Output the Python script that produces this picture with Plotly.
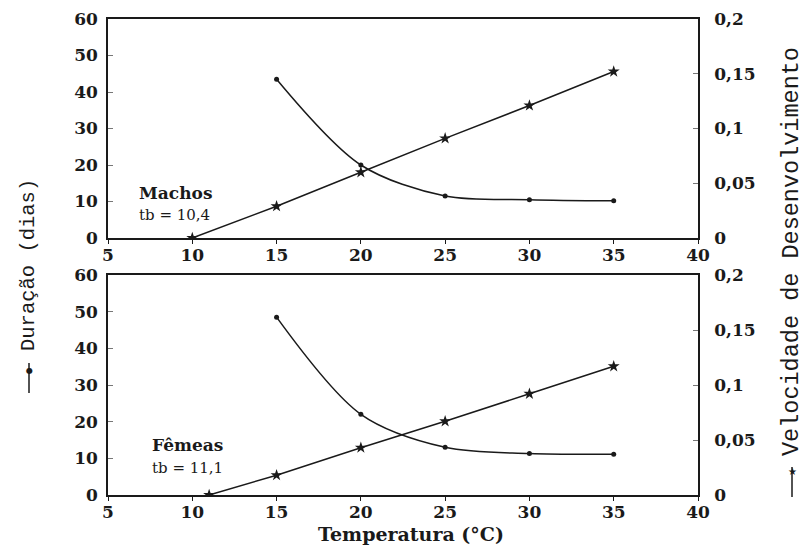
import plotly.graph_objects as go

temps_dur = [15, 20, 25, 30, 35]
dur_machos = [43.5, 20.0, 11.5, 10.5, 10.2]
dur_femeas = [48.5, 22.0, 13.0, 11.3, 11.1]

temps_vel_machos = [10, 15, 20, 25, 30, 35]
vel_machos = [0.0, 0.029, 0.060, 0.091, 0.121, 0.152]
temps_vel_femeas = [11, 15, 20, 25, 30, 35]
vel_femeas = [0.0, 0.018, 0.043, 0.067, 0.092, 0.117]

x_ticks = [5, 10, 15, 20, 25, 30, 35, 40]
left_ticks = [0, 10, 20, 30, 40, 50, 60]
right_ticks = [0, 0.05, 0.1, 0.15, 0.2]
right_labels = ["0", "0,05", "0,1", "0,15", "0,2"]

serif = "DejaVu Serif"
mono = "Liberation Mono"
black = "#1a1a1a"

# the page body adds an 8px offset; lay out in screenshot pixels and compensate
OFF = 8
W, H = 809 - OFF, 546 - OFF
ML = 108 - OFF
MT = 19 - OFF
MB = H - (495 - OFF)
MR = W - (698 - OFF)
PW, PH = W - ML - MR, H - MT - MB


def px(x):
    return (x - OFF - ML) / PW


def py(y):
    return (H - MB - (y - OFF)) / PH


fig = go.Figure()

dur_line = dict(color=black, width=1.5, shape="spline", smoothing=0.9)
vel_line = dict(color=black, width=1.5)

fig.add_trace(go.Scatter(x=temps_dur, y=dur_machos, mode="lines+markers", line=dur_line,
                         marker=dict(symbol="circle", size=5, color=black),
                         xaxis="x", yaxis="y", showlegend=False))
fig.add_trace(go.Scatter(x=temps_vel_machos, y=vel_machos, mode="lines+markers", line=vel_line,
                         marker=dict(symbol="star", size=9, color=black),
                         xaxis="x", yaxis="y2", showlegend=False))
fig.add_trace(go.Scatter(x=temps_dur, y=dur_femeas, mode="lines+markers", line=dur_line,
                         marker=dict(symbol="circle", size=5, color=black),
                         xaxis="x2", yaxis="y3", showlegend=False))
fig.add_trace(go.Scatter(x=temps_vel_femeas, y=vel_femeas, mode="lines+markers", line=vel_line,
                         marker=dict(symbol="star", size=9, color=black),
                         xaxis="x2", yaxis="y4", showlegend=False))

tickfont = dict(family=serif, size=17, color=black, weight="bold")

xcommon = dict(range=[5, 40], tickvals=x_ticks, showgrid=False, zeroline=False,
               showline=True, linecolor=black, linewidth=1.5, mirror=True,
               ticks="outside", ticklen=4, tickcolor=black, tickfont=tickfont,
               automargin=False, ticklabelstandoff=-3)
ylcommon = dict(range=[0, 60], tickvals=left_ticks, showgrid=False, zeroline=False,
                showline=True, linecolor=black, linewidth=1.5,
                ticks="inside", ticklen=5, tickcolor="#777", tickfont=tickfont,
                automargin=False, ticklabelstandoff=5)
yrcommon = dict(range=[0, 0.2], tickvals=right_ticks, ticktext=right_labels, showgrid=False,
                zeroline=False, showline=True, linecolor=black, linewidth=1.5, side="right",
                ticks="inside", ticklen=5, tickcolor="#777", tickfont=tickfont,
                automargin=False, ticklabelstandoff=11)

top_dom = [py(238), 1.0]
bot_dom = [0.0, py(275)]

fig.update_layout(
    template="none",
    width=W, height=H,
    margin=dict(l=ML, r=MR, t=MT, b=MB, pad=0),
    paper_bgcolor="white", plot_bgcolor="white",
    xaxis=dict(**xcommon, domain=[0, 1], anchor="y"),
    xaxis2=dict(**xcommon, domain=[0, 1], anchor="y3"),
    yaxis=dict(**ylcommon, domain=top_dom, anchor="x"),
    yaxis2=dict(**yrcommon, domain=top_dom, anchor="x", overlaying="y"),
    yaxis3=dict(**ylcommon, domain=bot_dom, anchor="x2"),
    yaxis4=dict(**yrcommon, domain=bot_dom, anchor="x2", overlaying="y3"),
)

# panel annotations
fig.add_annotation(x=6.7, y=12.2, xref="x", yref="y", text="Machos", showarrow=False,
                   xanchor="left", yanchor="middle",
                   font=dict(family=serif, size=17, color=black, weight="bold"))
fig.add_annotation(x=6.7, y=6.2, xref="x", yref="y", text="tb = 10,4", showarrow=False,
                   xanchor="left", yanchor="middle", font=dict(family=serif, size=15, color=black))
fig.add_annotation(x=7.5, y=13.6, xref="x2", yref="y3", text="Fêmeas", showarrow=False,
                   xanchor="left", yanchor="middle",
                   font=dict(family=serif, size=17, color=black, weight="bold"))
fig.add_annotation(x=7.5, y=7.4, xref="x2", yref="y3", text="tb = 11,1", showarrow=False,
                   xanchor="left", yanchor="middle", font=dict(family=serif, size=15, color=black))

# x-axis title
fig.add_annotation(x=px(411), y=py(534), xref="paper", yref="paper", text="Temperatura (°C)",
                   showarrow=False, xanchor="center", yanchor="middle",
                   font=dict(family=serif, size=19, color=black, weight="bold"))

# left axis title with its legend symbol
fig.add_annotation(x=px(28), y=py(265), xref="paper", yref="paper", text="Duração (dias)",
                   showarrow=False, textangle=-90, xanchor="center", yanchor="middle",
                   font=dict(family=mono, size=20.5, color=black))
fig.add_shape(type="line", xref="paper", yref="paper", x0=px(29), x1=px(29), y0=py(363), y1=py(393),
              line=dict(color=black, width=1.5))
fig.add_annotation(x=px(29), y=py(370), xref="paper", yref="paper", text="●", showarrow=False,
                   xanchor="center", yanchor="middle", font=dict(family="DejaVu Sans", size=8, color=black))

# right axis title with its legend symbol
fig.add_annotation(x=px(791), y=py(252), xref="paper", yref="paper",
                   text="Velocidade de Desenvolvimento",
                   showarrow=False, textangle=-90, xanchor="center", yanchor="middle",
                   font=dict(family=mono, size=23.5, color=black))
fig.add_shape(type="line", xref="paper", yref="paper", x0=px(792), x1=px(792), y0=py(467), y1=py(497),
              line=dict(color=black, width=1.5))
fig.add_annotation(x=px(792), y=py(471), xref="paper", yref="paper", text="★", showarrow=False,
                   xanchor="center", yanchor="middle", font=dict(family="DejaVu Sans", size=10, color=black))

fig.write_html("out.html")
